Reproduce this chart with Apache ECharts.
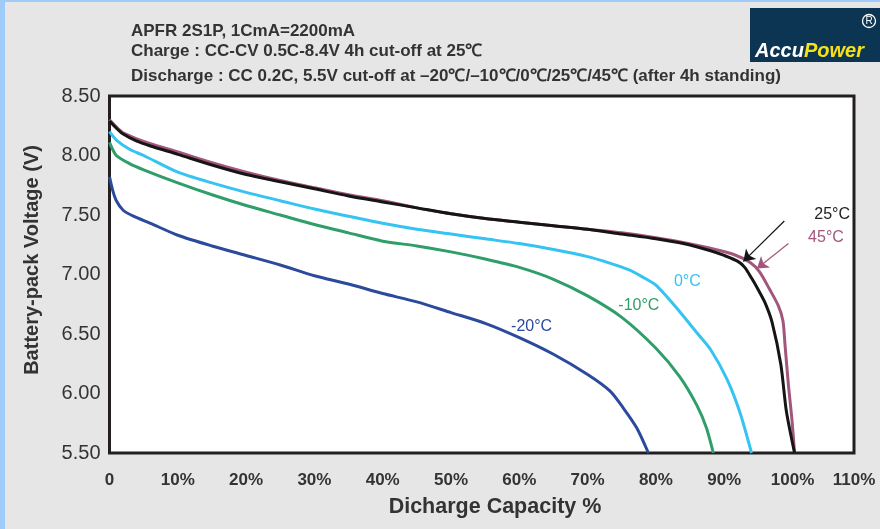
<!DOCTYPE html>
<html>
<head>
<meta charset="utf-8">
<script src="https://cdn.jsdelivr.net/npm/echarts@6/dist/echarts.min.js"></script>
<style>
html,body{margin:0;padding:0;background:#e6e6e6;}
#c{width:880px;height:529px;}
</style>
</head>
<body>
<div id="c"></div>
<script>
// ---- data (capacity %, voltage V) ----
const cap45  = [0, 1, 2, 4, 6, 10, 15, 20, 25, 30, 35, 40, 45, 50, 55, 60, 65, 70, 75, 80, 84, 88, 91.3, 93.8, 95.2, 96.6, 97.9, 98.6, 98.9, 99.4, 99.9, 100.3];
const volt45 = [8.30, 8.24, 8.19, 8.14, 8.10, 8.03, 7.94, 7.86, 7.79, 7.73, 7.67, 7.62, 7.56, 7.51, 7.47, 7.44, 7.41, 7.38, 7.35, 7.31, 7.27, 7.22, 7.17, 7.10, 7.02, 6.88, 6.74, 6.61, 6.41, 6.07, 5.79, 5.50];

const cap25  = [0, 1, 2, 4, 6, 10, 15, 20, 25, 30, 35, 40, 45, 50, 55, 60, 65, 70, 75, 80, 84, 88, 90, 92, 93, 94, 95, 96, 97, 98.3, 99.1, 100.3];
const volt25 = [8.29, 8.23, 8.18, 8.12, 8.08, 8.01, 7.92, 7.84, 7.78, 7.72, 7.66, 7.61, 7.56, 7.51, 7.47, 7.44, 7.41, 7.38, 7.34, 7.30, 7.26, 7.20, 7.16, 7.11, 7.06, 6.97, 6.87, 6.76, 6.60, 6.24, 5.85, 5.50];

const cap0   = [0, 1, 3, 5, 10, 15, 20, 25, 30, 35, 40, 45, 50, 55, 60, 65, 70, 73, 76, 78, 80, 83, 86, 88, 90.4, 92.3, 94];
const volt0  = [8.20, 8.13, 8.05, 8.00, 7.86, 7.77, 7.69, 7.62, 7.55, 7.49, 7.43, 7.38, 7.34, 7.30, 7.26, 7.21, 7.15, 7.10, 7.04, 6.98, 6.91, 6.72, 6.51, 6.37, 6.12, 5.84, 5.50];

const capM10  = [0, 1, 3, 5, 10, 15, 20, 25, 30, 35, 40, 45, 50, 55, 60, 65, 70, 75, 80, 83.5, 86, 87.4, 88.4];
const voltM10 = [8.11, 8.00, 7.93, 7.88, 7.77, 7.67, 7.58, 7.50, 7.42, 7.35, 7.28, 7.24, 7.19, 7.13, 7.06, 6.96, 6.82, 6.64, 6.38, 6.14, 5.90, 5.71, 5.50];

const capM20  = [0, 0.5, 1, 2, 3.5, 6, 10, 15, 20, 25, 30, 35, 40, 45, 50, 55, 60, 65, 70, 73.3, 75.2, 77.2, 78.9];
const voltM20 = [7.82, 7.70, 7.62, 7.54, 7.49, 7.43, 7.33, 7.24, 7.16, 7.08, 6.99, 6.92, 6.84, 6.77, 6.68, 6.59, 6.47, 6.33, 6.16, 6.02, 5.88, 5.71, 5.50];

// curve labels: [capacity, voltage]
const seriesNames = ['45°C', '25°C', '0°C', '-10°C', '-20°C'];
const labelPos = [[104.9, 7.31], [105.8, 7.50], [84.6, 6.94], [77.5, 6.74], [61.8, 6.56]];
// arrows: from [cap, V] to [cap, V]
const arrow25 = [[98.8, 7.45], [92.8, 7.11]];
const arrow45 = [[99.4, 7.26], [94.8, 7.05]];

const xTickLabels = ['0', '10%', '20%', '30%', '40%', '50%', '60%', '70%', '80%', '90%', '100%', '110%'];
const yMin = 5.5, yMax = 8.5, yStep = 0.5;
const xMin = 0, xMax = 109, xStep = 10;

const titleLines = [
  'APFR 2S1P, 1CmA=2200mA',
  'Charge : CC-CV 0.5C-8.4V 4h cut-off at 25\u2103',
  'Discharge : CC 0.2C, 5.5V cut-off at \u201320\u2103/\u201310\u2103/0\u2103/25\u2103/45\u2103 (after 4h standing)'
];
const xName = 'Dicharge Capacity %';
const yName = 'Battery-pack Voltage (V)';

// ---- build ----
function zip(a, b) { return a.map((v, i) => [v, b[i]]); }
const colors = ['#a3567c', '#151515', '#35c3f2', '#2f9e6a', '#2c4a9c'];
const datasets = [zip(cap45, volt45), zip(cap25, volt25), zip(cap0, volt0), zip(capM10, voltM10), zip(capM20, voltM20)];
const arrows = { 0: arrow45, 1: arrow25 };

const series = datasets.map((d, i) => {
  const s = {
    name: seriesNames[i],
    type: 'line',
    data: d,
    showSymbol: false,
    smooth: 0.25,
    lineStyle: { color: colors[i], width: 3 },
    itemStyle: { color: colors[i] },
    z: 3 + i,
    markPoint: {
      symbol: 'circle', symbolSize: 0, silent: true,
      label: { show: true, position: 'inside', formatter: seriesNames[i], color: colors[i] === '#151515' ? '#222' : colors[i], fontSize: 16, fontFamily: 'Liberation Sans, Arial, sans-serif' },
      data: [{ coord: labelPos[i] }]
    }
  };
  if (arrows[i]) {
    s.markLine = {
      silent: true, symbol: ['none', 'arrow'], symbolSize: 11,
      lineStyle: { color: colors[i], width: 1.2, type: 'solid' },
      label: { show: false },
      data: [[{ coord: arrows[i][0] }, { coord: arrows[i][1] }]]
    };
  }
  return s;
});

const chart = echarts.init(document.getElementById('c'), null, { renderer: 'canvas' });
const titleFont = 'Liberation Sans, Arial, sans-serif';
chart.setOption({
  animation: false,
  backgroundColor: '#e6e6e6',
  grid: { left: 109.5, right: 26, top: 96, bottom: 76, show: true, backgroundColor: '#fff', borderColor: '#231f20', borderWidth: 3, z: 1 },
  xAxis: {
    type: 'value', min: xMin, max: xMax, interval: xStep,
    axisLine: { show: false }, axisTick: { show: false },
    splitLine: { show: true, lineStyle: { color: '#a0a0a0', type: [7, 5], width: 1 } },
    axisLabel: {
      margin: 19, color: '#333', fontSize: 17, fontWeight: 'bold',
      fontFamily: titleFont,
      formatter: v => xTickLabels[Math.round(v / xStep)],
      showMaxLabel: true, showMinLabel: true
    }
  },
  yAxis: {
    type: 'value', min: yMin, max: yMax, interval: yStep,
    axisLine: { show: false }, axisTick: { show: false },
    splitLine: { show: true, lineStyle: { color: '#a0a0a0', type: [7, 5], width: 1 } },
    axisLabel: { margin: 9, color: '#333', fontSize: 20, fontFamily: titleFont, formatter: v => v.toFixed(2) }
  },
  series: series,
  graphic: [
    { type: 'rect', left: 0, top: 0, shape: { width: 5, height: 529 }, style: { fill: '#9ecbf7' }, z: 100 },
    { type: 'rect', left: 0, top: 0, shape: { width: 880, height: 2 }, style: { fill: '#9ecbf7' }, z: 100 },
    { type: 'text', x: 131, y: 31, style: { text: titleLines[0], font: 'bold 17px ' + titleFont, fill: '#333', verticalAlign: 'middle' } },
    { type: 'text', x: 131, y: 51, style: { text: titleLines[1], font: 'bold 17px ' + titleFont, fill: '#333', verticalAlign: 'middle' } },
    { type: 'text', x: 131, y: 76.5, style: { text: titleLines[2], font: 'bold 17px ' + titleFont, fill: '#333', verticalAlign: 'middle' } },
    { type: 'rect', left: 750, top: 8, shape: { width: 140, height: 54 }, style: { fill: '#0c3553' } },
    { type: 'circle', shape: { cx: 869, cy: 21, r: 6.5 }, style: { fill: 'none', stroke: '#fff', lineWidth: 1.3 } },
    { type: 'text', x: 869, y: 21.5, style: { text: 'R', font: '10px ' + titleFont, fill: '#fff', align: 'center', verticalAlign: 'middle' } },
    { type: 'text', x: 755, y: 51, style: {
        text: '{a|Accu}{b|Power}', verticalAlign: 'middle',
        rich: { a: { fill: '#fff', font: 'italic bold 20px ' + titleFont }, b: { fill: '#f5e21a', font: 'italic bold 20px ' + titleFont } } } },
    { type: 'text', x: 495, y: 507, style: { text: xName, font: 'bold 21.5px ' + titleFont, fill: '#333', align: 'center', verticalAlign: 'middle' } },
    { type: 'text', x: 32, y: 260, rotation: Math.PI / 2, style: { text: yName, font: 'bold 20px ' + titleFont, fill: '#333', align: 'center', verticalAlign: 'middle' } }
  ]
});
</script>
</body>
</html>
